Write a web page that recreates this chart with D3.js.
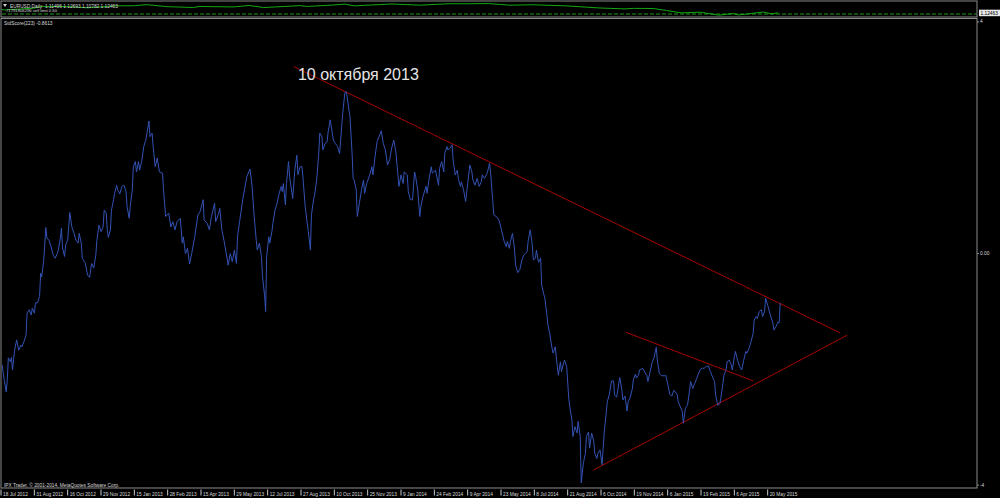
<!DOCTYPE html>
<html><head><meta charset="utf-8">
<script src="https://cdn.jsdelivr.net/npm/d3@7"></script>
<style>html,body{margin:0;padding:0;background:#000;} svg{display:block;}</style>
</head><body>
<svg id="chart" width="1000" height="498"></svg>
<script>
// ---- Data ----
// bottom time axis: label text and bar index (bars = trading days)
const tickLabels = ["18 Jul 2012","31 Aug 2012","16 Oct 2012","29 Nov 2012","15 Jan 2013","28 Feb 2013","15 Apr 2013","29 May 2013","12 Jul 2013","27 Aug 2013","10 Oct 2013","25 Nov 2013","9 Jan 2014","24 Feb 2014","9 Apr 2014","23 May 2014","8 Jul 2014","21 Aug 2014","6 Oct 2014","19 Nov 2014","6 Jan 2015","19 Feb 2015","6 Apr 2015","20 May 2015"];
const tickBars = [0,32,64,96,128,160,192,224,256,288,320,352,384,416,448,480,512,544,576,608,640,672,704,736];

// StdScore(223) series: bar index and value
const scoreBars = [
2,4,6,7,8,10,11,12,14,16,18,20,21,23,25,26,28,30,31,33,
34,36,38,39,40,42,44,45,47,49,51,53,55,56,58,59,60,62,63,65,
67,68,69,71,73,75,76,78,79,82,84,86,87,88,90,92,93,95,97,99,
100,102,103,104,106,107,109,110,112,113,115,117,119,121,122,124,125,127,128,130,
131,133,134,136,138,140,143,144,146,147,149,151,153,156,157,159,162,164,166,168,
170,173,175,176,178,180,182,184,187,190,192,195,196,199,201,203,206,207,210,211,
213,215,218,219,221,223,225,227,228,230,233,235,237,240,242,244,246,247,249,251,
252,254,255,256,258,259,261,262,264,266,268,270,271,272,274,275,277,278,281,283,
285,286,288,290,291,293,295,296,298,299,301,302,304,306,307,309,310,312,314,315,
317,319,320,322,324,326,327,329,331,332,333,335,336,338,339,340,342,343,345,347,
349,350,352,355,357,358,360,362,366,368,370,372,374,376,378,380,382,383,385,387,
388,391,392,394,396,398,399,401,403,404,406,409,410,412,414,415,418,419,421,422,
424,426,427,429,430,432,434,435,437,439,440,442,443,445,447,449,451,453,454,456,
458,460,462,463,465,467,468,470,471,473,474,477,479,481,483,484,486,487,489,490,
492,494,495,497,499,501,503,506,507,509,511,512,514,515,517,519,520,522,523,525,
526,528,530,531,533,535,536,538,539,541,542,544,546,547,549,550,552,554,555,557,
558,560,562,563,565,566,568,570,571,573,574,576,578,580,582,583,585,587,589,590,
592,595,597,598,600,602,603,605,607,608,610,611,613,614,617,619,621,622,624,626,
628,630,631,633,635,638,639,641,643,645,647,650,651,653,655,656,658,660,662,663,
665,667,669,670,672,674,676,678,680,682,684,686,687,689,691,692,694,695,697,698,
700,702,703,705,706,708,710,712,714,716,717,719,721,723,724,726,727,729,731,732,
734,735,737,739,740,742,743,745,747,748,749];
const scoreValues = [
-1.93,-2.19,-2.40,-2.19,-1.81,-1.88,-1.80,-2.02,-1.68,-1.50,-1.68,-1.59,-1.62,-1.53,-1.42,-1.04,-0.98,-1.07,-0.95,-1.04,
-0.86,-0.86,-0.75,-0.35,-0.41,-0.12,0.44,0.26,0.22,0.11,-0.03,-0.09,-0.01,0.05,0.26,0.43,0.09,-0.06,0.14,0.22,
0.70,0.57,0.45,0.34,0.22,0.17,0.34,0.17,-0.09,-0.18,-0.38,-0.42,-0.29,-0.18,-0.26,-0.03,0.22,0.48,0.37,0.45,
0.74,0.69,0.40,0.27,0.40,0.74,0.92,1.03,1.17,1.09,1.02,1.15,1.17,1.06,0.80,0.60,0.80,1.09,1.49,1.58,
1.40,1.58,1.43,1.58,1.84,1.95,2.28,2.01,2.07,1.84,1.49,1.64,1.40,1.38,1.09,0.63,0.69,0.45,0.54,0.40,
0.54,0.60,0.17,0.28,-0.01,0.08,-0.19,-0.01,0.28,0.66,0.71,0.92,0.57,0.51,0.40,0.63,0.86,0.54,0.69,0.77,
0.40,0.22,-0.09,-0.21,-0.01,-0.15,0.05,-0.18,0.28,0.54,0.92,1.12,1.32,1.45,1.15,0.63,0.22,0.05,0.17,-0.06,
-0.41,-0.73,-1.01,-0.06,0.28,0.17,0.37,0.51,0.74,0.86,1.03,1.15,1.06,1.20,0.83,1.20,1.58,1.32,0.94,1.43,
1.69,1.35,1.49,1.49,1.26,0.80,0.51,0.37,0.05,0.66,0.92,1.00,1.26,1.72,2.07,2.01,1.78,1.89,1.92,2.09,
2.30,2.07,1.95,1.89,1.84,1.72,1.95,2.41,2.76,2.79,2.73,2.47,2.35,1.72,1.29,1.26,1.09,0.63,0.86,1.09,
1.26,1.03,1.20,1.35,1.49,1.35,1.66,1.92,2.11,1.89,1.78,1.52,1.61,1.81,1.95,1.75,1.35,1.15,1.35,1.20,
1.40,1.35,1.06,0.92,0.92,1.40,1.32,1.09,0.63,0.80,0.97,1.15,1.03,1.29,1.49,1.38,1.43,1.35,1.17,1.46,
1.58,1.40,1.72,1.84,1.78,1.81,1.87,1.61,1.35,1.43,1.29,1.15,1.23,1.09,0.89,1.20,1.52,1.40,1.26,1.17,
1.29,1.15,1.23,1.35,1.29,1.35,1.40,1.55,1.38,0.92,0.66,0.62,0.57,0.43,0.28,0.20,0.11,0.20,0.08,0.20,
0.34,0.05,-0.21,-0.34,-0.29,-0.12,-0.03,0.02,0.20,0.40,0.14,-0.12,-0.09,0.05,-0.16,-0.09,-0.55,-0.71,-0.77,-1.07,
-1.24,-1.42,-1.65,-1.73,-1.62,-1.96,-2.11,-1.88,-2.05,-1.90,-1.85,-1.96,-2.51,-2.65,-2.88,-3.17,-3.00,-3.11,-2.91,-3.17,
-3.97,-3.63,-3.46,-3.17,-3.09,-3.37,-3.11,-3.25,-3.46,-3.55,-3.46,-3.40,-3.66,-3.11,-2.75,-2.57,-2.44,-2.21,-2.21,-2.45,
-2.49,-2.15,-2.37,-2.54,-2.47,-2.73,-2.57,-2.49,-2.35,-2.19,-2.09,-2.16,-2.11,-2.02,-1.99,-2.06,-2.12,-2.22,-2.06,-1.89,
-1.80,-1.63,-1.85,-2.08,-2.12,-2.12,-2.11,-2.26,-2.44,-2.47,-2.37,-2.44,-2.56,-2.65,-2.74,-2.94,-2.68,-2.63,-2.37,-2.22,
-2.34,-2.25,-2.16,-2.11,-2.02,-1.99,-1.99,-1.96,-1.95,-2.05,-2.14,-2.22,-2.45,-2.63,-2.60,-2.51,-2.25,-2.11,-2.02,-1.88,
-1.85,-1.93,-2.02,-1.79,-1.70,-1.85,-1.96,-2.02,-1.85,-1.70,-1.73,-1.65,-1.53,-1.39,-1.16,-1.10,-1.13,-1.01,-0.98,-1.10,
-1.01,-0.78,-0.90,-1.04,-1.10,-1.21,-1.33,-1.27,-1.19,-1.21,-0.86];

// Trend lines drawn on the StdScore panel: [bar, value] -> [bar, value]
const trendUpper  = [[282, 3.22], [806.5, -1.38]];
const trendLower  = [[569.6, -3.75], [813.2, -1.42]];
const trendMiddle = [[601, -1.37], [723.2, -2.21]];

// annotation
const noteText = "10 октября 2013";
const noteAt = [286, 2.98];

// right axis ticks
const scoreTicks = [4, 0, -4];

// EURUSD daily (top panel)
const priceBars  = [0,4,32,42,64,84,96,110,128,141,160,185,192,224,239,253,288,295,320,331,340,376,403,431,448,469,489,512,544,576,600,608,627,640,654,672,690,704,709,733,741,747];
const priceClose = [1.227,1.207,1.258,1.313,1.310,1.270,1.298,1.330,1.332,1.365,1.306,1.280,1.310,1.297,1.340,1.279,1.336,1.312,1.355,1.381,1.330,1.385,1.350,1.393,1.391,1.399,1.350,1.362,1.328,1.265,1.238,1.254,1.250,1.190,1.120,1.140,1.050,1.100,1.057,1.144,1.087,1.1246];
const sellLimitLevel = 1.085;
const lastPriceText = "1.12463";

const headerText = "EURUSD,Daily  1.11496 1.12693 1.10782 1.12463";
const orderText = "#1791806296 sell limit 0.50";
const indicatorText = "StdScore(223) -0.8613";
const copyrightText = "IPX Trader, \u00A9 2001-2014, MetaQuotes Software Corp.";

// ---- Layout ----
const W = 1000, H = 498;
const plotRight = 977;
const topPanel = {y0: 1, y1: 17};
const mainPanel = {y0: 18.5, y1: 488};
const FONT = "'Liberation Sans', Arial, sans-serif";
const SMALL = 4.8;
const txtColor = "#d8d8d8";
const borderColor = "#8a8a8a";

const svg = d3.select("#chart").attr("font-family", FONT);
svg.append("rect").attr("width", W).attr("height", H).attr("fill", "#000");

const x = d3.scaleLinear().domain([0, 768]).range([0, 800]);
const y = d3.scaleLinear().domain([-4, 4]).range([484.6, 21.4]);
const yPrice = d3.scaleLinear().domain([1.04, 1.40]).range([15.5, 3.5]);

// clip paths
const defs = svg.append("defs");
defs.append("clipPath").attr("id", "clipTop").append("rect")
  .attr("x", 1.5).attr("y", topPanel.y0 + 0.5).attr("width", plotRight - 2).attr("height", topPanel.y1 - topPanel.y0 - 1);
defs.append("clipPath").attr("id", "clipMain").append("rect")
  .attr("x", 1.5).attr("y", mainPanel.y0 + 0.5).attr("width", plotRight - 2).attr("height", mainPanel.y1 - mainPanel.y0 - 1);

// ---- Top panel ----
const gTop = svg.append("g").attr("clip-path", "url(#clipTop)");
gTop.append("line")
  .attr("x1", 2).attr("x2", plotRight)
  .attr("y1", yPrice(sellLimitLevel)).attr("y2", yPrice(sellLimitLevel))
  .attr("stroke", "#1e9a1e").attr("stroke-width", 1.2).attr("stroke-dasharray", "4,2");
gTop.append("path")
  .datum(priceBars.map((b, i) => [b, priceClose[i]]))
  .attr("fill", "none").attr("stroke", "#12a812").attr("stroke-width", 1)
  .attr("d", d3.line().x(d => x(d[0])).y(d => yPrice(d[1])));

svg.append("path").attr("d", "M3,4 L7,4 L5,7 Z").attr("fill", "#d0d0d0");
svg.append("text").attr("x", 10).attr("y", 8).attr("font-size", SMALL).attr("fill", txtColor)
  .attr("xml:space", "preserve").style("white-space", "pre").text(headerText);
svg.append("text").attr("x", 6).attr("y", 12).attr("font-size", 4.2).attr("fill", txtColor).text(orderText);

// last price tag
const tag = svg.append("g").attr("transform", `translate(979,${yPrice(priceClose[priceClose.length-1])})`);
tag.append("rect").attr("x", 0).attr("y", -3).attr("width", 21).attr("height", 6.5).attr("fill", "#e8e8e8");
tag.append("text").attr("x", 1.5).attr("y", 2).attr("font-size", SMALL).attr("fill", "#000").text(lastPriceText);

// ---- Main panel ----
const gMain = svg.append("g").attr("clip-path", "url(#clipMain)");
const trendLine = d3.line().x(d => x(d[0])).y(d => y(d[1]));
[trendUpper, trendLower, trendMiddle].forEach(t => {
  gMain.append("path").datum(t).attr("d", trendLine)
    .attr("fill", "none").attr("stroke", "#a80000").attr("stroke-width", 1);
});
gMain.append("path")
  .datum(scoreBars.map((b, i) => [b, scoreValues[i]]))
  .attr("fill", "none").attr("stroke", "#3352b4").attr("stroke-width", 1).attr("stroke-linejoin", "round")
  .attr("d", d3.line().x(d => x(d[0])).y(d => y(d[1])));

svg.append("text").attr("x", x(noteAt[0])).attr("y", y(noteAt[1]))
  .attr("font-size", 16).attr("fill", "#e6e6e6").text(noteText);

svg.append("text").attr("x", 4).attr("y", 24.5).attr("font-size", SMALL).attr("fill", txtColor).text(indicatorText);

// borders
svg.append("rect").attr("x", 1).attr("y", topPanel.y0).attr("width", plotRight - 1).attr("height", topPanel.y1 - topPanel.y0)
  .attr("fill", "none").attr("stroke", borderColor).attr("stroke-width", 1);
svg.append("rect").attr("x", 1).attr("y", mainPanel.y0).attr("width", plotRight - 1).attr("height", mainPanel.y1 - mainPanel.y0)
  .attr("fill", "none").attr("stroke", borderColor).attr("stroke-width", 1);

// right axis
const yAxis = d3.axisRight(y).tickValues(scoreTicks).tickSize(2).tickPadding(1)
  .tickFormat(d => d === 0 ? "0.00" : String(d));
const gy = svg.append("g").attr("transform", `translate(${plotRight},0)`).call(yAxis);
gy.select(".domain").remove();
gy.selectAll("line").attr("stroke", borderColor);
gy.selectAll("text").attr("font-size", SMALL).attr("font-family", FONT).attr("fill", txtColor);

// bottom axis
const xAxis = d3.axisBottom(x).tickValues(tickBars).tickSize(6)
  .tickFormat((d, i) => tickLabels[i]);
const gx = svg.append("g").attr("transform", `translate(0,${mainPanel.y1 + 1.5})`).call(xAxis);
gx.select(".domain").remove();
gx.selectAll("line").attr("stroke", "#c8c8c8").attr("transform", "translate(0.5,0)");
gx.selectAll("text").attr("font-size", SMALL).attr("font-family", FONT).attr("fill", txtColor)
  .attr("text-anchor", "start").attr("x", 2.5).attr("y", 6).attr("dy", 0);

svg.append("text").attr("x", 4).attr("y", 486.5).attr("font-size", SMALL).attr("fill", txtColor).text(copyrightText);
</script>
</body></html>
